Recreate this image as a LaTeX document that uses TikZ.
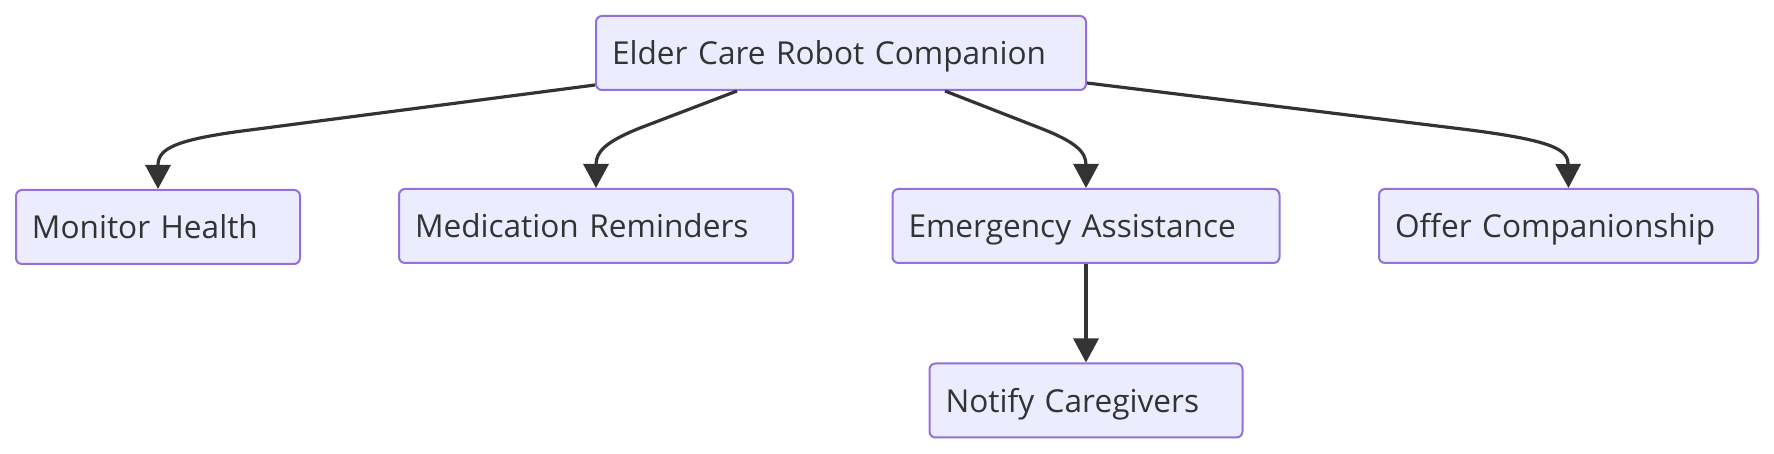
\documentclass[tikz,border=0pt]{standalone}
\usepackage{fontspec}
\setmainfont{Open Sans}
\usepackage{tikz}
\usetikzlibrary{arrows.meta}
\usetikzlibrary{calc}
\usetikzlibrary{positioning}

\definecolor{boxfill}{HTML}{ECECFF}
\definecolor{boxline}{HTML}{9370DB}
\definecolor{ink}{HTML}{333333}

\begin{document}
\begin{tikzpicture}[x=0.5pt, y=-0.5pt]
	\useasboundingbox (0,0) rectangle (1774,454);
	\begin{scope}[every node/.style={draw=boxline, fill=boxfill, text=ink, line width=1pt,
	              rounded corners=3pt, minimum height=37pt, inner xsep=8pt, inner ysep=0pt,
	              align=left, text height=11.8pt, text depth=0pt,
	              font=\fontsize{15.8}{18}\selectfont}]
		\node[text width=229pt] (robot) at (841,53) {Elder Care Robot Companion};
		\node[text width=126pt] (health) at (158,227) {Monitor Health};
		\node[text width=181pt] (meds) at (596,226) {Medication Reminders};
		\node[text width=177.5pt] (emergency) at (1086,226) {Emergency Assistance};
		\node[text width=173.5pt] (offer) at (1568.5,226) {Offer Companionship};
		\node[text width=140.5pt] (notify) at (1086,400.5) {Notify Caregivers};
	\end{scope}
	
	\begin{scope}[>={Triangle[length=12pt, width=12.5pt]},
	              every path/.style={draw=ink, line width=1.6pt}]
		\draw[->] ($(robot.south west)+(0,-6)$) -- (250,130)
			.. controls (170,140) and (158,150) .. (health.north);
		\draw[->] ($(robot.south)+(-104,0)$) -- (640,128)
			.. controls (605,142) and (596,152) .. (meds.north);
		\draw[->] ($(robot.south)+(104,0)$) -- (1040,128)
			.. controls (1076,142) and (1086,152) .. (emergency.north);
		\draw[->] ($(robot.south east)+(0,-8)$) -- (1470,130)
			.. controls (1555,141) and (1568,150) .. (offer.north);
		\draw[->] (emergency) -- (notify);
	\end{scope}
\end{tikzpicture}
\end{document}
